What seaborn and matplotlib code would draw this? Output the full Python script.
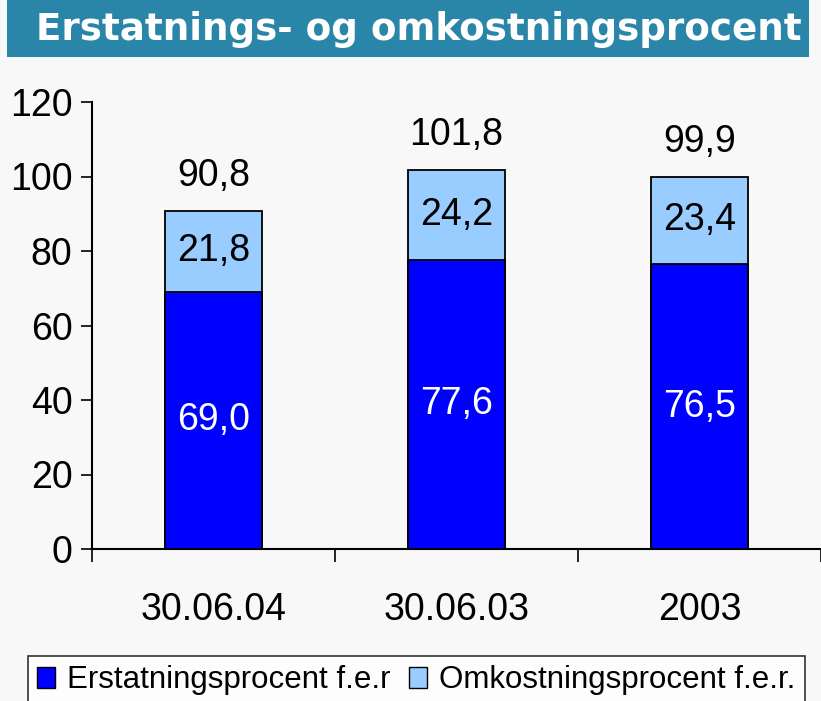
import matplotlib
import matplotlib.pyplot as plt
import pandas as pd
import seaborn as sns
from matplotlib.patches import Patch, Rectangle

matplotlib.use("Agg")

# ---------------------------------------------------------------------------
# Data
# ---------------------------------------------------------------------------
periods      = ["30.06.04", "30.06.03", "2003"]
erstatning   = [69.0, 77.6, 76.5]
omkostning   = [21.8, 24.2, 23.4]
totals       = [90.8, 101.8, 99.9]
y_ticks      = [0, 20, 40, 60, 80, 100, 120]

TITLE        = "Erstatnings- og omkostningsprocent"
LEGEND_LABELS = ["Erstatningsprocent f.e.r", "Omkostningsprocent f.e.r."]

BG       = "#f8f8f8"
BAND     = "#2a86a8"
DARK     = "#0000ff"
LIGHT    = "#99ccff"


def fmt(v: float) -> str:
    return f"{v:.1f}".replace(".", ",")


df = pd.DataFrame({"period": periods, "erst": erstatning, "omk": omkostning, "total": totals})

sns.set_theme(style="white")
plt.rcParams["font.family"] = ["Liberation Sans", "DejaVu Sans"]
plt.rcParams["text.color"] = "black"
plt.rcParams["xtick.color"] = "black"
plt.rcParams["ytick.color"] = "black"

W, H = 821, 701
fig = plt.figure(figsize=(W / 100, H / 100), dpi=100, facecolor=BG)

# title band
fig.patches.append(Rectangle((7 / W, 1 - 57 / H), 802 / W, 57 / H,
                             transform=fig.transFigure, facecolor=BAND,
                             edgecolor="none", zorder=0))
fig.text(419 / W, 1 - 29 / H, TITLE, color="white", fontsize=26.8,
         fontweight="bold", family="DejaVu Sans", ha="center", va="center")

ax_left, ax_right = 92, 821
ax_top, ax_bottom = 102, 549
ax = fig.add_axes([ax_left / W, 1 - ax_bottom / H,
                   (ax_right - ax_left) / W, (ax_bottom - ax_top) / H])
ax.set_facecolor(BG)

# stacked bars: total in light blue, erstatning overlaid in dark blue
sns.barplot(data=df, x="period", y="total", color=LIGHT, saturation=1,
            width=0.4, edgecolor="black", linewidth=1.3, ax=ax, zorder=2)
sns.barplot(data=df, x="period", y="erst", color=DARK, saturation=1,
            width=0.4, edgecolor="black", linewidth=1.3, ax=ax, zorder=3)

for i, row in df.iterrows():
    ax.text(i, row["erst"] / 2, fmt(row["erst"]), color="white",
            ha="center", va="center", fontsize=27, zorder=4)
    ax.text(i, row["erst"] + row["omk"] / 2, fmt(row["omk"]), color="black",
            ha="center", va="center", fontsize=27, zorder=4)
    ax.text(i, row["total"] + 6.7, fmt(row["total"]), color="black",
            ha="center", va="baseline", fontsize=27, zorder=4)

ax.set_xlim(-0.5, 2.42)
ax.set_ylim(0, 120)
ax.set_yticks(y_ticks)
ax.set_xlabel("")
ax.set_ylabel("")

for side in ["top", "right"]:
    ax.spines[side].set_visible(False)
for side in ["left", "bottom"]:
    ax.spines[side].set_color("black")
    ax.spines[side].set_linewidth(1.5)

ax.tick_params(axis="y", which="major", direction="out", length=8, width=1.2,
               color="black", labelsize=27, pad=6, left=True)
ax.tick_params(axis="x", which="major", length=0, labelsize=27, pad=31)
ax.set_xticks([-0.5, 0.5, 1.5, 2.5], minor=True)
ax.tick_params(axis="x", which="minor", direction="out", length=9, width=1.2,
               color="black", bottom=True)

handles = [Patch(facecolor=DARK, edgecolor="black", linewidth=1),
           Patch(facecolor=LIGHT, edgecolor="black", linewidth=1)]
leg = fig.legend(handles, LEGEND_LABELS, ncol=2, loc="upper left",
                 bbox_to_anchor=(28 / W, 1 - 656 / H), frameon=True,
                 fancybox=False, edgecolor="black", facecolor="white",
                 fontsize=22.5, handlelength=0.55, handleheight=0.65,
                 handletextpad=0.4, columnspacing=0.6, borderpad=0.3,
                 borderaxespad=0)
leg.get_frame().set_linewidth(1.2)

fig.savefig("out.png", dpi=100, facecolor=BG)
